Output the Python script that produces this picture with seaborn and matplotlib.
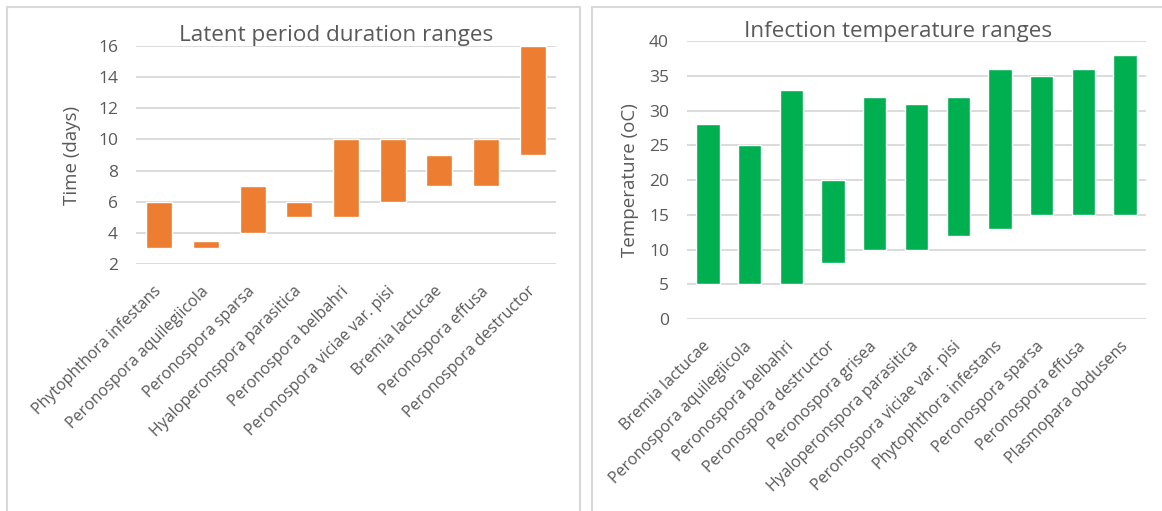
import matplotlib
matplotlib.use("Agg")
import matplotlib.pyplot as plt
from matplotlib.patches import Rectangle
import seaborn as sns
import pandas as pd

# Latent period (days): min / max per pathogen
latent_species = [
    "Phytophthora infestans",
    "Peronospora aquilegiicola",
    "Peronospora sparsa",
    "Hyaloperonspora parasitica",
    "Peronospora belbahri",
    "Peronospora viciae var. pisi",
    "Bremia lactucae",
    "Peronospora effusa",
    "Peronospora destructor",
]
latent_min = [3, 3, 4, 5, 5, 6, 7, 7, 9]
latent_max = [6, 3.5, 7, 6, 10, 10, 9, 10, 16]

# Infection temperature (oC): min / max per pathogen
temp_species = [
    "Bremia lactucae",
    "Peronospora aquilegiicola",
    "Peronospora belbahri",
    "Peronospora destructor",
    "Peronospora grisea",
    "Hyaloperonspora parasitica",
    "Peronospora viciae var. pisi",
    "Phytophthora infestans",
    "Peronospora sparsa",
    "Peronospora effusa",
    "Plasmopara obdusens",
]
temp_min = [5, 5, 5, 8, 10, 10, 12, 13, 15, 15, 15]
temp_max = [28, 25, 33, 20, 32, 31, 32, 36, 35, 36, 38]

TEXT = "#595959"
GRID = "#d9d9d9"
FONT = "Open Sans"

sns.set_style("white")
plt.rcParams["font.family"] = [FONT, "DejaVu Sans"]

W, H = 1162, 511
fig = plt.figure(figsize=(W / 100, H / 100), dpi=100)


def px_rect(x0, y0, x1, y1):
    return [x0 / W, 1 - y1 / H, (x1 - x0) / W, (y1 - y0) / H]


# Panel frames
for x0, x1 in [(7, 580), (592, 1175)]:
    fig.patches.append(Rectangle((x0 / W, -0.05), (x1 - x0) / W, 1 - 7 / H + 0.05,
                                 transform=fig.transFigure, fill=False,
                                 edgecolor=GRID, linewidth=1.5))


def range_bars(ax, species, lo, hi, color, yticks, ylabel, ylim, label_x):
    df = pd.DataFrame({"species": species,
                       "span": [h - l for l, h in zip(lo, hi)]})
    sns.barplot(data=df, x="species", y="span", bottom=lo, color=color,
                saturation=1, width=0.56, errorbar=None, ax=ax, zorder=3)
    ax.set_ylim(*ylim)
    ax.set_xlim(-0.5, len(species) - 0.5)
    ax.set_yticks(yticks)
    ax.yaxis.grid(True, color=GRID, linewidth=1.3, zorder=0)
    ax.set_axisbelow(True)
    for s in ax.spines.values():
        s.set_visible(False)
    ax.tick_params(axis="both", length=0, colors=TEXT, labelsize=12.5)
    ax.tick_params(axis="y", pad=13)
    ax.tick_params(axis="x", pad=18)
    plt.setp(ax.get_xticklabels(), rotation=45, ha="right", va="center",
             rotation_mode="anchor", fontsize=11.5)
    ax.set_xlabel("")
    ax.set_ylabel(ylabel, color=TEXT, fontsize=13.5)
    ax.yaxis.set_label_coords(label_x, 0.5)


ax1 = fig.add_axes(px_rect(136, 46, 556, 264))
range_bars(ax1, latent_species, latent_min, latent_max, "#ed7d31",
           list(range(2, 17, 2)), "Time (days)", (2, 16), -0.131)

ax2 = fig.add_axes(px_rect(687, 41, 1146, 319))
range_bars(ax2, temp_species, temp_min, temp_max, "#00b050",
           list(range(0, 41, 5)), "Temperature (oC)", (0, 40), -0.105)

fig.text(336 / W, 1 - 35 / H, "Latent period duration ranges", ha="center",
         va="center", color=TEXT, fontsize=16.2)
fig.text(898 / W, 1 - 32 / H, "Infection temperature ranges", ha="center",
         va="center", color=TEXT, fontsize=16.2)

fig.savefig("out.png", dpi=100, facecolor="white")
